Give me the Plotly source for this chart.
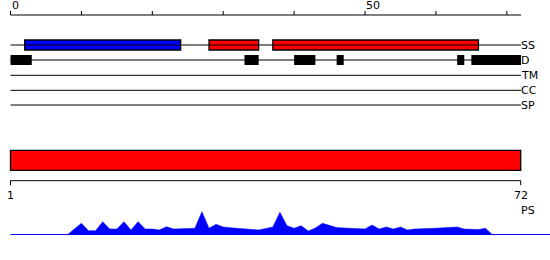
import plotly.graph_objects as go

# ---------------- data ----------------
SEQ_LEN = 72
TOP_TICKS = [0, 10, 20, 30, 40, 50, 60, 70]
TOP_TICK_LABELS = ["0", "", "", "", "", "50", "", ""]

TRACKS = ["SS", "D", "TM", "CC", "SP"]

ss_start = [2, 28, 37]
ss_end = [24, 35, 66]
ss_type = ["helix", "strand", "strand"]

d_start = [0, 33, 40, 46, 63, 65]
d_end = [3, 35, 43, 47, 64, 72]

ps_start = [1]
ps_end = [72]
PS_TICKS = [1, 72]
PS_TICK_LABELS = ["1", "72"]

residue = list(range(0, 73))
score = [0, 0, 0, 0, 0, 0, 0, 0, 0, 6, 11.7, 4.3, 4.3, 13.3, 6, 6, 13.3, 5, 13.3, 6,
         6, 5, 8.3, 6, 6, 6, 6.7, 23.3, 6.7, 10.7, 8, 7.3, 6.7, 6, 5.5, 5, 6.5, 8, 22.7, 9.3,
         6.7, 9.3, 4, 7, 11.7, 9.5, 7.5, 7, 6.7, 6.7, 6, 10, 6, 8, 6, 8, 5, 6, 6, 6.5,
         6.8, 7.3, 7.7, 8, 6, 5.5, 5.5, 6.7, 0, 0, 0, 0, 0]

# ---------------- layout constants ----------------
W, H = 550, 260
PX_PER_UNIT = 7.09
X0_PX = 10.5
x_lo = -X0_PX / PX_PER_UNIT
x_hi = x_lo + W / PX_PER_UNIT

ps_px_per_unit = (520.7 - X0_PX) / (PS_TICKS[-1] - PS_TICKS[0])
x2_lo = PS_TICKS[0] - X0_PX / ps_px_per_unit
x2_hi = x2_lo + W / ps_px_per_unit

TRACK_Y = {"SS": 45, "D": 60, "TM": 75.3, "CC": 90.3, "SP": 105}
TOP_AXIS_Y = 15
PS_BAR_Y = 160.3
PS_AXIS_Y = 180.7
BASE_Y = 235
AREA_H = 30

SS_COLORS = {"helix": "#0000ff", "strand": "#ff0000"}
FONT = "DejaVu Sans"

fig = go.Figure()

# top ruler
fig.add_trace(go.Scatter(x=[0, SEQ_LEN], y=[TOP_AXIS_Y, TOP_AXIS_Y], mode="lines",
                         line=dict(color="black", width=1), hoverinfo="skip"))
tx, ty = [], []
for t in TOP_TICKS:
    tx += [t, t, None]
    ty += [TOP_AXIS_Y - 4, TOP_AXIS_Y, None]
fig.add_trace(go.Scatter(x=tx, y=ty, mode="lines", line=dict(color="black", width=1),
                         hoverinfo="skip"))
for t, lab in zip(TOP_TICKS, TOP_TICK_LABELS):
    if lab:
        fig.add_annotation(x=t, y=5.5, xref="x", yref="y", text=lab, showarrow=False,
                           xanchor="left", yanchor="middle", xshift=-1,
                           font=dict(family=FONT, size=11, color="black"))

# track lines and labels
for name in TRACKS:
    yy = TRACK_Y[name]
    fig.add_trace(go.Scatter(x=[0, SEQ_LEN], y=[yy, yy], mode="lines",
                             line=dict(color="black", width=1), hoverinfo="skip"))
    fig.add_annotation(x=SEQ_LEN, y=yy, xref="x", yref="y", text=name, showarrow=False,
                       xanchor="left", yanchor="middle", xshift=-2,
                       font=dict(family=FONT, size=11, color="black"))

# SS boxes
fig.add_trace(go.Bar(orientation="h", base=ss_start,
                     x=[e - s for s, e in zip(ss_start, ss_end)],
                     y=[TRACK_Y["SS"]] * len(ss_start), width=10,
                     marker=dict(color=[SS_COLORS[t] for t in ss_type],
                                 line=dict(color="black", width=1.3)),
                     hoverinfo="skip"))
# D boxes
fig.add_trace(go.Bar(orientation="h", base=d_start,
                     x=[e - s for s, e in zip(d_start, d_end)],
                     y=[TRACK_Y["D"]] * len(d_start), width=10,
                     marker=dict(color="black", line=dict(color="black", width=0)),
                     hoverinfo="skip"))

# PS bar (bottom scale)
fig.add_trace(go.Bar(orientation="h", base=ps_start,
                     x=[e - s for s, e in zip(ps_start, ps_end)],
                     y=[PS_BAR_Y] * len(ps_start), width=20,
                     marker=dict(color="#ff0000", line=dict(color="black", width=1.3)),
                     xaxis="x2", yaxis="y", hoverinfo="skip"))
fig.add_trace(go.Scatter(x=[PS_TICKS[0], PS_TICKS[-1]], y=[PS_AXIS_Y, PS_AXIS_Y],
                         mode="lines", line=dict(color="black", width=1),
                         xaxis="x2", yaxis="y", hoverinfo="skip"))
bx, by = [], []
for t in PS_TICKS:
    bx += [t, t, None]
    by += [PS_AXIS_Y, PS_AXIS_Y + 4.5, None]
fig.add_trace(go.Scatter(x=bx, y=by, mode="lines", line=dict(color="black", width=1),
                         xaxis="x2", yaxis="y", hoverinfo="skip"))
for t, lab in zip(PS_TICKS, PS_TICK_LABELS):
    fig.add_annotation(x=t, y=195.3, xref="x2", yref="y", text=lab, showarrow=False,
                       xanchor="center", yanchor="middle",
                       font=dict(family=FONT, size=11, color="black"))
fig.add_annotation(x=PS_TICKS[-1], y=210.7, xref="x2", yref="y", text="PS", showarrow=False,
                   xanchor="center", yanchor="middle", xshift=7,
                   font=dict(family=FONT, size=11, color="black"))

# area profile
fig.add_trace(go.Scatter(x=residue, y=score, mode="lines", fill="tozeroy",
                         fillcolor="#0000ff", line=dict(color="#0000ff", width=0.5),
                         xaxis="x", yaxis="y2", hoverinfo="skip"))
fig.add_shape(type="line", xref="x", yref="y2", x0=0, x1=x_hi, y0=0, y1=0,
              line=dict(color="#0000ff", width=2))

bottom = (H - BASE_Y) / H
fig.update_layout(
    width=W, height=H, margin=dict(l=0, r=0, t=0, b=0),
    paper_bgcolor="white", plot_bgcolor="white", showlegend=False, barmode="overlay",
    xaxis=dict(range=[x_lo, x_hi], domain=[0, 1], visible=False, fixedrange=True),
    xaxis2=dict(range=[x2_lo, x2_hi], domain=[0, 1], overlaying="x", anchor="y",
                visible=False),
    yaxis=dict(range=[H, 0], domain=[0, 1], visible=False),
    yaxis2=dict(range=[0, AREA_H], domain=[bottom, bottom + AREA_H / H], anchor="x",
                visible=False),
)

fig.write_html("out.html")
